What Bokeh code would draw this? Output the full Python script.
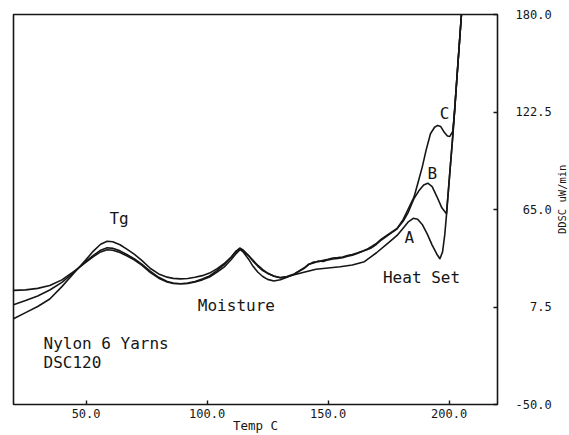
import math
from bokeh.plotting import figure
from bokeh.layouts import row
from bokeh.models import LinearAxis, FixedTicker, Range1d, PrintfTickFormatter, ColumnDataSource
from bokeh.core.properties import value
from bokeh.embed import file_html
from bokeh.resources import INLINE

FONT = "DejaVu Sans Mono"
INK = "#161616"

# ---- data ----
x_ticks = [50, 100, 150, 200]
y_ticks = [-50.0, 7.5, 65.0, 122.5, 180.0]
y_tick_labels = ["-50.0", "7.5", "65.0", "122.5", "180.0"]

# common temperatures for the Tg / moisture part (deg C)
temp_low = [20, 25, 30, 35, 40, 45, 50, 53, 56, 58.7, 61, 64, 67, 70, 73, 76.6, 80, 83.5, 86, 89,
            92, 95, 98, 101, 104, 107, 110, 112, 113.5, 115, 117, 119, 121, 123, 125, 127.6, 130.3]

a_low = [0.6, 4.2, 7.8, 12.2, 19.5, 27.5, 35.5, 40.5, 44.5, 46.3, 46.0, 44.2, 41.5, 38.5, 35.0, 30.2, 27.0, 25.1, 24.4, 24.1,
         24.3, 25.0, 26.0, 27.5, 30.0, 33.0, 37.0, 40.5, 42.3, 41.0, 38.0, 34.5, 31.5, 29.0, 27.3, 25.8, 24.8]
b_low = [8.8, 11.3, 14.0, 17.5, 22.0, 28.0, 34.5, 38.0, 41.0, 42.4, 42.1, 40.6, 38.3, 35.8, 32.8, 28.5, 25.0, 22.5, 21.6, 21.2,
         21.4, 22.2, 23.5, 25.2, 28.0, 31.0, 35.5, 39.0, 41.2, 40.5, 38.0, 35.0, 32.0, 29.5, 27.5, 25.6, 24.8]
c_low = [17.3, 17.6, 18.5, 20.2, 23.5, 28.5, 34.0, 37.2, 40.0, 41.3, 41.0, 39.6, 37.5, 35.2, 32.2, 27.8, 24.5, 22.2, 21.4, 21.2,
         21.6, 22.5, 24.0, 25.8, 29.0, 32.5, 37.0, 40.3, 41.8, 39.8, 36.0, 31.5, 28.0, 25.5, 23.8, 22.8, 23.6]

# heat-set part, one temperature list per yarn
a_temp_high = [133, 136, 140, 145, 150, 155, 160, 165, 170, 175, 178.5, 181, 183, 185.2, 187, 189, 191, 193, 195, 196.2,
               197.3, 198.2, 199.0, 200.2, 201.5, 203.3, 205.1, 205.6]
a_high = [25.3, 26.5, 28.0, 29.8, 30.5, 31.2, 32.3, 34.2, 39.5, 45.5, 49.7, 54.0, 57.5, 59.8, 59.2, 56.0, 50.5, 44.0, 38.5, 36.0,
          40.0, 50.0, 63.0, 85.0, 108.0, 144.0, 180.0, 190.0]

b_temp_high = [133, 136, 138, 140, 142, 144, 146, 148, 150, 152, 154, 156, 158, 160, 162, 164, 166, 168, 170, 172,
               175, 178.5, 181, 183, 185.5, 187.5, 189.5, 191.2, 193, 195, 197, 198.9, 200.2, 201.5, 203.3, 205.1, 205.6]
b_high = [25.5, 27.0, 28.8, 30.5, 32.8, 33.5, 34.6, 34.4, 35.3, 35.8, 36.2, 36.5, 37.5, 38.0, 39.0, 40.2, 41.2, 42.5, 44.5, 47.0,
          50.0, 53.6, 58.0, 63.0, 71.5, 76.0, 79.5, 80.5, 78.5, 72.5, 66.0, 62.5, 85.0, 108.0, 144.0, 180.0, 190.0]

c_temp_high = [133, 136, 138, 140, 142, 144, 146, 148, 150, 152, 154, 156, 158, 160, 162, 164, 166, 168, 170, 172,
               175, 178.5, 181, 183, 185.5, 187, 188.9, 190.5, 192.3, 194, 195.3, 196.5, 198, 199.3, 200.3, 201.5, 202.3, 203.3, 205.1, 205.6]
c_high = [25.0, 26.8, 28.5, 30.2, 32.5, 34.0, 34.2, 35.0, 35.6, 36.4, 36.6, 37.0, 37.8, 38.5, 39.4, 40.3, 41.5, 43.2, 45.0, 47.5,
          50.5, 53.8, 59.0, 65.0, 72.3, 80.0, 90.0, 100.0, 109.7, 113.5, 114.6, 114.0, 110.5, 108.3, 108.1, 111.0, 123.0, 144.0, 180.0, 190.0]

curves = {
    "A": (temp_low + a_temp_high, a_low + a_high),
    "B": (temp_low + b_temp_high, b_low + b_high),
    "C": (temp_low + c_temp_high, c_low + c_high),
}

# ---- main figure ----
y_range = Range1d(-50, 180)
p = figure(width=555, height=435, x_range=Range1d(20, 220), y_range=y_range,
           output_backend="svg", toolbar_location=None, y_axis_location=None,
           min_border_left=13, min_border_right=58, min_border_top=14, min_border_bottom=31)
p.grid.visible = False
p.background_fill_color = "white"
p.border_fill_color = "white"
p.outline_line_color = INK
p.outline_line_width = 1.6

xa = p.xaxis[0]
xa.ticker = FixedTicker(ticks=x_ticks)
xa.formatter = PrintfTickFormatter(format="%.1f")
xa.axis_line_color = None
xa.major_tick_in = 4
xa.major_tick_out = 0
xa.major_tick_line_color = INK
xa.major_tick_line_width = 1.4
xa.minor_tick_line_color = None
xa.major_label_standoff = 4
xa.major_label_text_font = FONT
xa.major_label_text_font_size = "12px"
xa.major_label_text_color = INK
xa.axis_label = "Temp C"
xa.axis_label_standoff = -3
xa.axis_label_text_font = FONT
xa.axis_label_text_font_size = "12.5px"
xa.axis_label_text_font_style = "normal"
xa.axis_label_text_color = INK

# right axis: labels right-aligned by padding to equal width (monospace font)
width = max(len(s) for s in y_tick_labels)
ya = LinearAxis(ticker=FixedTicker(ticks=y_ticks))
ya.major_label_overrides = {t: "\u00a0" * (width - len(s)) + s for t, s in zip(y_ticks, y_tick_labels)}
ya.axis_line_color = None
ya.major_tick_in = 4
ya.major_tick_out = 0
ya.major_tick_line_color = INK
ya.major_tick_line_width = 1.4
ya.minor_tick_line_color = None
ya.major_label_standoff = 18
ya.major_label_text_font = FONT
ya.major_label_text_font_size = "12px"
ya.major_label_text_color = INK
p.add_layout(ya, "right")

for name, (tx, ty) in curves.items():
    p.line(tx, ty, line_color=INK, line_width=1.6, line_join="round")

center_src = ColumnDataSource(dict(
    x=[63.6, 112.1, 188.6, 183.6, 193.1, 198.1],
    y=[59.7, 8.4, 24.9, 48.5, 86.2, 121.6],
    t=["Tg", "Moisture", "Heat Set", "A", "B", "C"]))
p.text("x", "y", text="t", source=center_src, text_align="center", text_baseline="middle",
       text_font=value(FONT), text_font_size="16px", text_color=INK)

left_src = ColumnDataSource(dict(x=[32.4, 32.4], y=[-14.0, -25.2], t=["Nylon 6 Yarns", "DSC120"]))
p.text("x", "y", text="t", source=left_src, text_align="left", text_baseline="middle",
       text_font=value(FONT), text_font_size="16px", text_color=INK)

# ---- narrow strip holding the y-axis title, read bottom-to-top ----
p2 = figure(width=14, height=435, x_range=Range1d(0, 14), y_range=y_range,
            output_backend="svg", toolbar_location=None, x_axis_location=None, y_axis_location=None,
            min_border_left=0, min_border_right=0, min_border_top=14, min_border_bottom=31)
p2.grid.visible = False
p2.outline_line_color = None
p2.background_fill_color = "white"
p2.border_fill_color = "white"
p2.text(x=[6], y=[71], text=["DDSC uW/min"], angle=math.pi / 2, text_align="center",
        text_baseline="middle", text_font=value(FONT), text_font_size="10.5px", text_color=INK)

layout = row(p, p2, spacing=0)
open("out.html", "w").write(file_html(layout, INLINE))
